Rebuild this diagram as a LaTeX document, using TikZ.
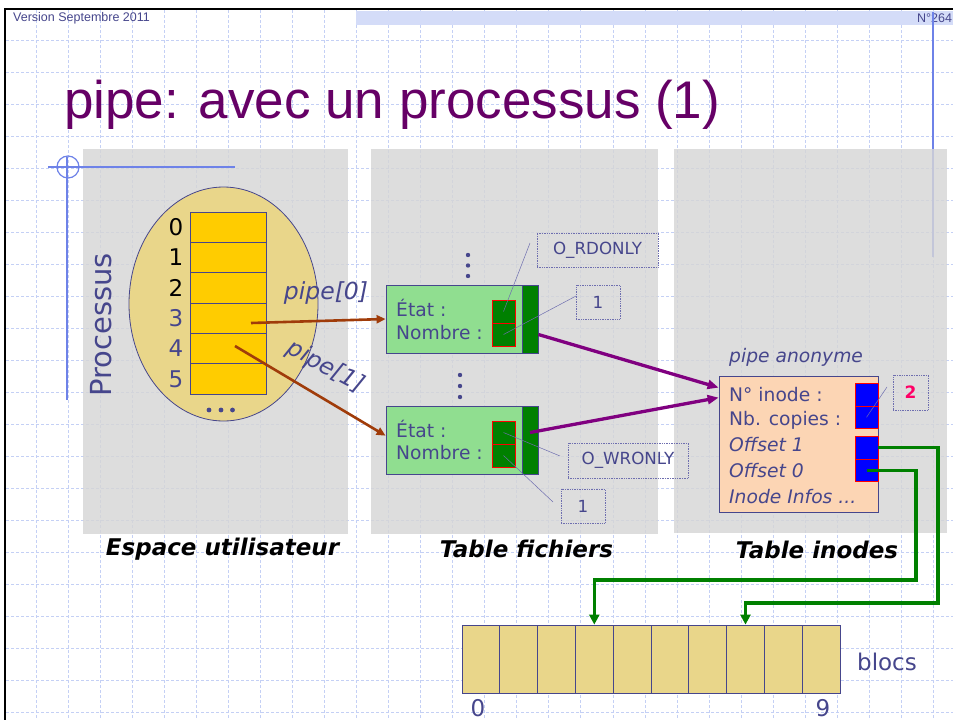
\documentclass[tikz,border=0pt]{standalone}
\usepackage{fontspec}
\setmainfont{DejaVu Sans}
\newfontfamily\titlefont{Liberation Sans}
\usetikzlibrary{shapes.geometric,arrows.meta,calc}

\definecolor{slate}{RGB}{70,70,140}
\definecolor{gridblue}{RGB}{196,208,245}
\definecolor{bandblue}{RGB}{212,220,248}
\definecolor{markblue}{RGB}{110,130,232}
\definecolor{panelgray}{RGB}{214,214,214}
\definecolor{khaki}{RGB}{233,214,138}
\definecolor{gold}{RGB}{255,204,0}
\definecolor{lgreen}{RGB}{144,222,144}
\definecolor{dgreen}{RGB}{0,128,0}
\definecolor{peach}{RGB}{252,213,180}
\definecolor{sienna}{RGB}{160,60,10}
\definecolor{purp}{RGB}{128,0,128}
\definecolor{titlepurple}{RGB}{102,0,102}
\definecolor{hotpink}{RGB}{255,0,102}
\definecolor{leadcol}{RGB}{110,110,175}

\newcommand\fsz[1]{\fontsize{#1}{#1}\selectfont}

\tikzset{
  gridline/.style={gridblue, line width=0.8pt, dash pattern=on 3pt off 2pt},
  panel/.style={fill=panelgray, fill opacity=0.82},
  txt/.style={text=slate, font=\fsz{18.7}, inner sep=0pt, anchor=west},
  itxt/.style={txt, font=\fsz{18.7}\itshape},
  fdcell/.style={draw=slate, fill=gold, minimum width=76pt, minimum height=30.33pt, inner sep=0pt, line width=0.7pt},
  fbox/.style={draw=slate, fill=lgreen, minimum width=152pt, minimum height=68pt, inner sep=0pt, line width=0.8pt},
  strip/.style={draw=slate, fill=dgreen, minimum width=16pt, minimum height=68pt, inner sep=0pt, line width=0.8pt},
  rcell/.style={draw=red, fill=dgreen, minimum width=23pt, minimum height=23pt, inner sep=0pt, line width=0.8pt},
  bcell/.style={draw=red, fill=blue, minimum width=23pt, minimum height=22.8pt, inner sep=0pt, line width=0.8pt},
  dbox/.style={draw=leadcol, densely dotted, line width=0.7pt, text=slate, font=\fsz{16.7}, inner sep=0pt},
  leader/.style={leadcol, line width=0.5pt},
  brown/.style={sienna, line width=2.6pt, -{Triangle[length=9pt,width=8pt]}},
  purpline/.style={purp, line width=3.3pt, -{Triangle[length=11pt,width=9pt]}},
  grn/.style={dgreen, line width=3.5pt, -{Triangle[length=10pt,width=10pt]}},
  blk/.style={draw=slate, fill=khaki, minimum width=37.8pt, minimum height=68pt, inner sep=0pt, line width=0.8pt},
  lbl/.style={font=\fsz{23}\bfseries\itshape, text=black, inner sep=0pt},
  num/.style={font=\fsz{23}, inner sep=0pt},
}

\begin{document}
\begin{tikzpicture}[x=1pt,y=-1pt]
\useasboundingbox (0,0) rectangle (953,720);
\fill[white] (0,0) rectangle (953,720);

% squared paper background
\foreach \k in {0,...,28} \draw[gridline] ({36+32.05*\k},10) -- ({36+32.05*\k},720);
\foreach \k in {0,...,21} \draw[gridline] (6,{40+32*\k}) -- (953,{40+32*\k});

% header band and slide frame
\fill[bandblue] (356,11) rectangle (953,25);
\draw[black, line width=2.2pt] (5,720) -- (5,9) -- (953,9);
\node[anchor=west, text=slate, font=\titlefont\fsz{12.5}, inner sep=0pt] (version) at (13,18) {Version Septembre 2011};
\node[anchor=west, text=slate, font=\titlefont\fsz{12.5}, inner sep=0pt] (pageno) at (917,18) {N°264};
\draw[markblue, line width=2pt] (933,12) -- (933,257);

% title
\node[anchor=base west, text=titlepurple, font=\titlefont\fsz{53}, inner sep=0pt] (title) at (64,118) {pipe: avec un processus (1)};

% three grey zones
\fill[panel] (83,149) rectangle (348,534);
\fill[panel] (371,149) rectangle (658,534);
\fill[panel] (674,149) rectangle (947,533);

% corner mark
\draw[markblue, line width=1.2pt] (68,167) circle (11);
\draw[markblue, line width=1.2pt] (48,167) -- (235,167);
\draw[markblue, line width=2pt] (67,157) -- (67,400);

% process with its descriptor table
\node[ellipse, draw=slate, fill=khaki, minimum width=189pt, minimum height=234pt, inner sep=0pt, line width=0.8pt] (proc) at (223.5,304) {};
\foreach \i in {0,...,5} \node[fdcell] (c\i) at (228,{227.17+30.33*\i}) {};
\node[num, text=black] (n0) at (176,227.2) {0};
\node[num, text=black] (n1) at (176,257.5) {1};
\node[num, text=black] (n2) at (176,287.8) {2};
\node[num, text=slate] (n3) at (176,318.2) {3};
\node[num, text=slate] (n4) at (176,348.5) {4};
\node[num, text=slate] (n5) at (176,378.8) {5};
\fill[slate] (209,410) circle (2.4) (221,410) circle (2.4) (232.5,410) circle (2.4);
\node[rotate=90, text=slate, font=\fsz{29}, inner sep=0pt] (proclabel) at (101,325) {Processus};

% open file table entries
\node[fbox] (fb1) at (462,319) {};
\node[strip] (s1) at (530,319) {};
\node[rcell] (e1) at (503.5,311.5) {};
\node[rcell] (k1) at (503.5,334.5) {};
\node[txt] (t1a) at (396,308) {État :};
\node[txt] (t1b) at (396,333) {Nombre :};

\node[fbox] (fb2) at (462,440.5) {};
\node[strip] (s2) at (530,440.5) {};
\node[rcell] (e2) at (503.5,432.5) {};
\node[rcell] (k2) at (503.5,455.5) {};
\node[txt] (t2a) at (396,429) {État :};
\node[txt] (t2b) at (396,453) {Nombre :};

\fill[slate] (468,255) circle (2.2) (468,265.5) circle (2.2) (468,276) circle (2.2);
\fill[slate] (460,375) circle (2.2) (460,386) circle (2.2) (460,397) circle (2.2);

% field values
\node[dbox, minimum width=121pt, minimum height=34pt] (rd) at (597.5,250) {O\_RDONLY};
\node[dbox, minimum width=44pt, minimum height=34pt] (one1) at (598,302) {1};
\node[dbox, minimum width=120pt, minimum height=35pt] (wr) at (628,460.5) {O\_WRONLY};
\node[dbox, minimum width=44pt, minimum height=34pt] (one2) at (583,506) {1};
\coordinate (rdtip) at (530,243);
\coordinate (one1tip) at (576,296);
\coordinate (wrtip) at (560,456);
\coordinate (one2tip) at (553,502);
\draw[leader] (e1.center) -- (rdtip);
\draw[leader] (k1.center) -- (one1tip);
\draw[leader] (e2.center) -- (wrtip);
\draw[leader] (k2.center) -- (one2tip);

% inode of the anonymous pipe
\node[draw=slate, fill=peach, minimum width=159pt, minimum height=136pt, inner sep=0pt, line width=0.8pt] (ib) at (798.5,444) {};
\node[itxt] (anon) at (729,357) {pipe anonyme};
\node[txt] (ia) at (729,395) {N° inode :};
\node[txt] (ic) at (729,420) {Nb. copies :};
\node[itxt] (io1) at (729,445) {Offset 1};
\node[itxt] (io0) at (729,471) {Offset 0};
\node[itxt] (ii) at (729,497) {Inode Infos ...};
\node[bcell] (q1) at (866.5,394.5) {};
\node[bcell] (q2) at (866.5,417.3) {};
\node[bcell] (o1) at (866.5,447.5) {};
\node[bcell] (o0) at (866.5,470.3) {};
\node[dbox, minimum width=35pt, minimum height=35pt, text=hotpink, font=\fsz{17}\bfseries] (two) at (910.5,392.5) {2};
\coordinate (twotip) at (887,387);
\draw[leader] (q2.center) -- (twotip);

% disk blocks
\foreach \i in {0,...,9} \node[blk] (b\i) at ({462+37.8*(\i+0.5)},659) {};
\node[num, text=slate] (z0) at (478,708) {0};
\node[num, text=slate] (z9) at (823,708) {9};
\node[num, text=slate] (blocs) at (887,662) {blocs};

% descriptors to file table
\coordinate (p0) at (251,323);
\coordinate (p1) at (235,346);
\draw[brown] (p0) -- (fb1.west);
\draw[brown] (p1) -- ($(fb2.north west)!0.43!(fb2.south west)$);
\node[font=\fsz{23.5}\itshape, text=slate, inner sep=0pt] (lp0) at (326,293) {pipe[0]};
\node[font=\fsz{23.5}\itshape, text=slate, inner sep=0pt, rotate=-28] (lp1) at (326,367) {pipe[1]};

% file table to inode
\coordinate (ia1) at ($(ib.north west)+(0,12)$);
\coordinate (ia2) at ($(ib.north west)+(0,22)$);
\draw[purpline] (s1.east |- k1.center) -- (ia1);
\draw[purpline] (s2.center |- e2.center) -- (ia2);

% offsets to blocks
\draw[grn] (o1.east) -| (938,603) -| (b7.north);
\draw[grn] (o0.center) -| (916,580) -| (b3.north);

% zone captions
\node[lbl] (cap1) at (222.5,549) {Espace utilisateur};
\node[lbl] (cap2) at (526.5,549) {Table fichiers};
\node[lbl] (cap3) at (817,550) {Table inodes};
\end{tikzpicture}
\end{document}
